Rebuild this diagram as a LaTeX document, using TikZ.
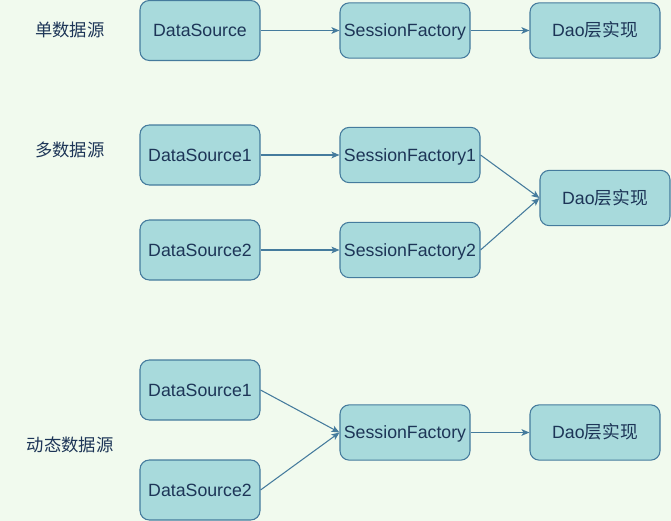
\documentclass[tikz,border=0pt]{standalone}
\usepackage{fontspec}
\setmainfont{Liberation Sans}
\newfontfamily\cjk{Noto Sans CJK SC}
\usetikzlibrary{arrows.meta}
\definecolor{bg}{HTML}{F1FAEE}
\definecolor{boxfill}{HTML}{A8DADC}
\definecolor{boxline}{HTML}{457B9D}
\definecolor{ink}{HTML}{1D3557}
\tikzset{
  box/.style={draw=boxline, fill=boxfill, rounded corners=7pt, line width=0.8pt,
    text=ink, font=\fontsize{13.3}{15}\selectfont, inner sep=0pt,
    text height=11.8pt, text depth=2.5pt},
  lbl/.style={text=ink, font=\cjk\fontsize{13}{15}\selectfont},
  link/.style={draw=boxline, line width=0.8pt, -{Stealth[length=6pt,width=5pt,inset=1.5pt]}}
}
\begin{document}
\begin{tikzpicture}[x=0.75pt,y=-0.75pt]
  \fill[bg] (0,0) rectangle (671,521);
  \useasboundingbox (0,0) rectangle (671,521);
  % single data source
  \node[lbl] (l1) at (70,30) {单数据源};
  \node[box, minimum width=90pt, minimum height=45pt] (ds) at (200,30.5) {DataSource};
  \node[box, minimum width=97.5pt, minimum height=41.5pt] (sf) at (405,30.5) {SessionFactory};
  \node[box, minimum width=97.5pt, minimum height=41.5pt] (dao) at (595,30.5) {Dao{\cjk 层实现}};
  \draw[link] (ds) -- (sf);
  \draw[link] (sf) -- (dao);
  % multiple data sources
  \node[lbl] (l2) at (70,150) {多数据源};
  \node[box, minimum width=90pt, minimum height=45pt] (ds1) at (200,155) {DataSource1};
  \node[box, minimum width=90pt, minimum height=45pt] (ds2) at (200,250) {DataSource2};
  \node[box, minimum width=105pt, minimum height=41.5pt] (sf1) at (410,155) {SessionFactory1};
  \node[box, minimum width=105pt, minimum height=41.5pt] (sf2) at (410,250) {SessionFactory2};
  \node[box, minimum width=97.5pt, minimum height=41.5pt] (daom) at (605,198) {Dao{\cjk 层实现}};
  \draw[link] (ds1) -- (sf1);
  \draw[link] (ds2) -- (sf2);
  \draw[link] (sf1.east) -- (daom.west);
  \draw[link] (sf2.east) -- (daom.west);
  % dynamic data source
  \node[lbl] (l3) at (70,445) {动态数据源};
  \node[box, minimum width=90pt, minimum height=45pt] (dd1) at (200,390) {DataSource1};
  \node[box, minimum width=90pt, minimum height=45pt] (dd2) at (200,490) {DataSource2};
  \node[box, minimum width=97.5pt, minimum height=41.5pt] (sfd) at (405,432.5) {SessionFactory};
  \node[box, minimum width=97.5pt, minimum height=41.5pt] (daod) at (595,432.5) {Dao{\cjk 层实现}};
  \draw[link] (dd1.east) -- (sfd.west);
  \draw[link] (dd2.east) -- (sfd.west);
  \draw[link] (sfd) -- (daod);
\end{tikzpicture}
\end{document}
